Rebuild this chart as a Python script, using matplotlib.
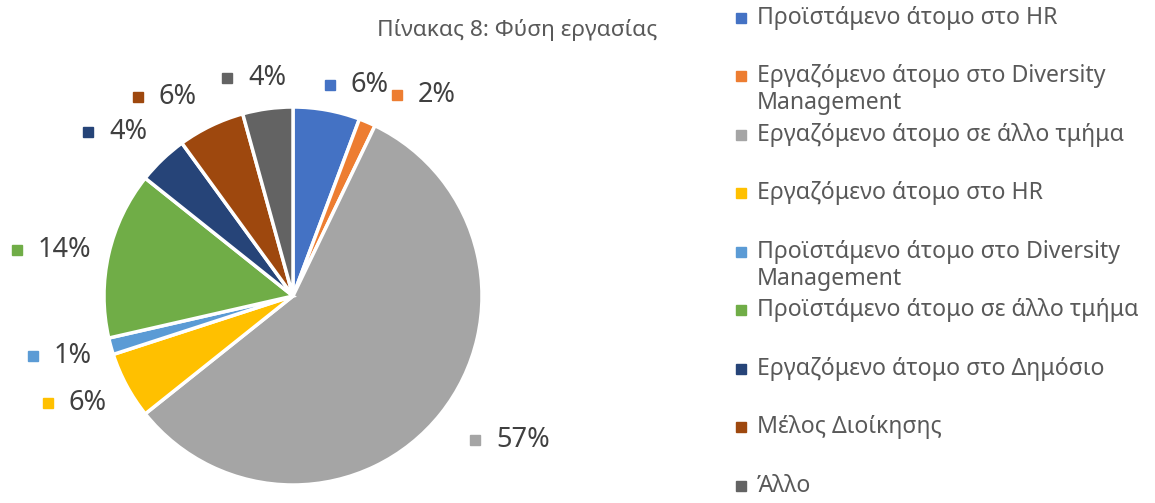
import matplotlib.pyplot as plt

categories = [
    "Προϊστάμενο άτομο στο HR",
    "Εργαζόμενο άτομο στο Diversity\nManagement",
    "Εργαζόμενο άτομο σε άλλο τμήμα",
    "Εργαζόμενο άτομο στο HR",
    "Προϊστάμενο άτομο στο Diversity\nManagement",
    "Προϊστάμενο άτομο σε άλλο τμήμα",
    "Εργαζόμενο άτομο στο Δημόσιο",
    "Μέλος Διοίκησης",
    "Άλλο",
]
counts = [4, 1, 40, 4, 1, 10, 3, 4, 3]
pct_labels = ["6%", "2%", "57%", "6%", "1%", "14%", "4%", "6%", "4%"]
colors = ["#4472C4", "#ED7D31", "#A5A5A5", "#FFC000", "#5B9BD5",
          "#70AD47", "#264478", "#9E480E", "#636363"]

# label marker positions in pixels (x, y from top)
label_px = [(330, 85), (397, 95), (475, 440), (48, 403), (33, 356),
            (17, 250), (88, 132), (138, 97), (227, 78)]

W, H = 1155, 503
cx, cy, R = 293, 296, 189
font = "Noto Sans"
txt_color = "#404040"

fig = plt.figure(figsize=(W / 100, H / 100), dpi=100)
ax = fig.add_axes([0, 0, 1, 1])


def to_data(px, py):
    return (px - cx) / R, (cy - py) / R


ax.pie(counts, colors=colors, startangle=90, counterclock=False, radius=1,
       wedgeprops=dict(edgecolor="white", linewidth=2.5))
ax.set_aspect("auto")
ax.set_xlim(-cx / R, (W - cx) / R)
ax.set_ylim(-(H - cy) / R, cy / R)
ax.axis("off")

# data labels
for (px, py), lab, col in zip(label_px, pct_labels, colors):
    x, y = to_data(px, py)
    ax.plot(x, y, marker="s", markersize=7, color=col, linestyle="none")
    ax.text(x + 21 / R, y, lab, fontsize=19.5, family=font, color=txt_color,
            va="center", ha="left")

# title
x, y = to_data(517, 30)
ax.text(x, y, "Πίνακας 8: Φύση εργασίας", fontsize=16.3, family=font,
        color="#595959", ha="center", va="center")

# legend
for i, (cat, col) in enumerate(zip(categories, colors)):
    py = 18 + 58.5 * i
    x, y = to_data(741, py)
    ax.plot(x, y, marker="s", markersize=6.5, color=col, linestyle="none")
    for j, line in enumerate(cat.split("\n")):
        tx, ty = to_data(757, py + 27 * j)
        ax.text(tx, ty, line, fontsize=16.6, family=font, color="#595959",
                ha="left", va="center")

fig.savefig("out.png", dpi=100)
